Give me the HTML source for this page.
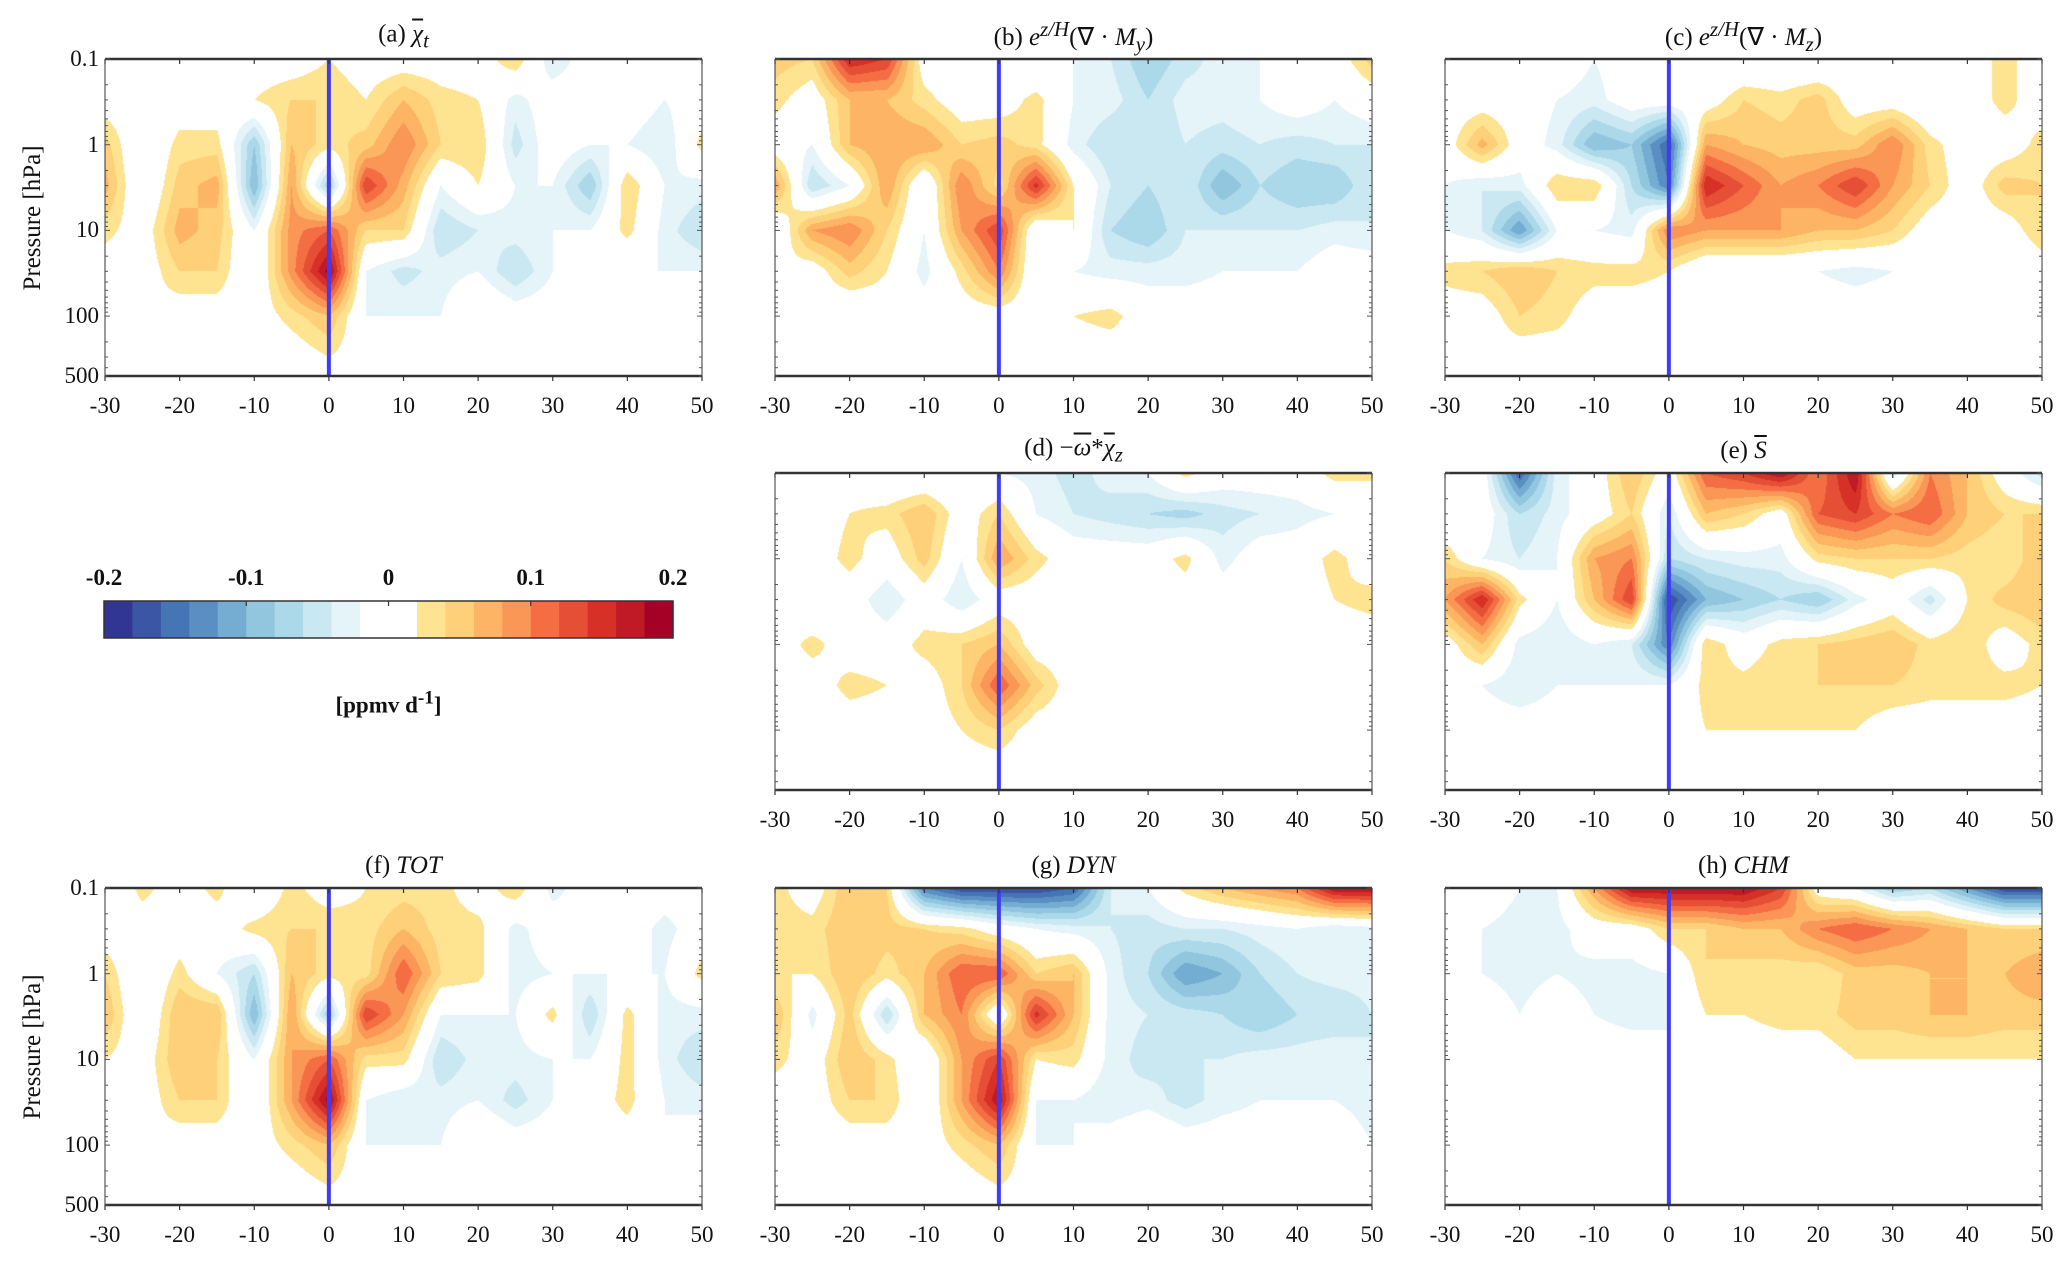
<!DOCTYPE html>
<html><head><meta charset="utf-8">
<style>
html,body{margin:0;padding:0;background:#fff;}
#root{position:relative;width:2067px;height:1262px;overflow:hidden;font-family:"Liberation Serif",serif;color:#111;}
.t{position:absolute;white-space:nowrap;}
.tick{font-size:23px;transform:translate(-50%,-50%);}
.ylab{font-size:23px;transform:translate(-100%,-50%);}
.title{font-size:25px;transform:translate(-50%,-50%);}
.cbl{font-size:23px;font-weight:bold;transform:translate(-50%,-50%);}
canvas{position:absolute;}
i{font-style:italic;}
</style></head>
<body>
<div id="root">
<svg id="ax" width="2067" height="1262" style="position:absolute;left:0;top:0;z-index:2"></svg>
</div>
<script>
// ---- data (units of 0.01 ppmv/d) ----
const days = [-30,-25,-20,-15,-10,-5,0,5,10,15,20,25,30,35,40,45,50];
const levels = [0.1,0.3,1,3,10,30,100,300,500];
const xTicks = [-30,-20,-10,0,10,20,30,40,50];
const yTicks = ["0.1","1","10","100","500"];
const yTickVals = [0.1,1,10,100,500];
const cbTicks = ["-0.2","-0.1","0","0.1","0.2"];

const fieldA = [
[-2,0,0,0,0,0,2,0,0,0,0,4,-4,0,0,0,0],
[0,0,0,0,2,4,4,2,6,3,2,-3,0,0,0,-2,0],
[5,-2,3,3,-8,6,3,5,10,4,4,-5,0,-2,-2,-4,3],
[7,-2,5,7,-10,8,-8,14,7,-2,2,-2,-2,-8,4,-2,-3],
[3,0,7,5,-2,9,12,4,4,-6,-4,-3,-2,-2,3,-3,-6],
[0,0,4,4,-2,9,19,-2,-5,-3,-2,-6,-2,0,-2,-2,-2],
[0,2,0,0,0,3,6,-2,-2,-2,2,0,0,2,0,-2,0],
[0,0,0,0,0,0,2,0,0,0,0,0,0,0,0,0,0],
[0,0,0,0,0,0,0,0,0,0,0,0,0,0,0,0,0]];
const fieldB = [
[5,4,16,14,0,0,-2,-2,-2,-4,-8,-5,-3,-2,-2,0,5],
[3,0,6,6,3,0,0,3,-2,-3,-6,-3,-3,-2,0,-2,0],
[0,-2,6,8,8,4,5,3,-3,-6,-6,-4,-5,-4,-5,-4,-4],
[8,-6,-2,8,-2,10,3,15,2,-4,-6,-4,-10,-6,-8,-8,-4],
[-2,8,10,4,-2,8,14,-2,2,-6,-8,-4,-4,-4,-4,-3,-4],
[2,0,5,2,-3,3,10,-2,-2,-3,-3,-3,-2,-2,-2,0,0],
[0,0,-2,0,0,0,0,0,2,3,0,0,0,0,0,0,0],
[0,0,0,0,0,0,0,0,0,0,0,0,0,0,0,0,0],
[0,0,0,0,0,0,0,0,0,0,0,0,0,0,0,0,0]];
const fieldC = [
[0,0,2,0,-2,0,0,-2,-2,-2,-2,0,-2,0,0,3,0],
[0,0,0,-2,-3,0,0,0,4,3,5,0,0,-2,0,3,0],
[0,7,0,-3,-10,-8,-16,8,6,5,5,5,10,3,0,0,3],
[-2,-4,-3,4,4,-6,-14,16,12,8,10,14,8,4,0,5,4],
[-2,-4,-12,-2,-2,-3,10,8,8,8,6,6,4,0,0,0,4],
[3,4,6,4,3,3,2,-2,-2,-2,-2,-3,-2,-2,0,-2,0],
[0,0,4,3,0,0,0,0,0,0,0,0,0,0,0,0,0],
[0,0,0,0,0,0,0,0,0,0,0,0,0,0,0,0,0],
[0,0,0,0,0,0,0,0,0,0,0,0,0,0,0,0,0]];
const fieldD = [
[-2,-2,0,-2,-2,-2,-2,-3,-5,-3,-2,3,0,0,0,3,3],
[0,0,2,3,6,0,4,-2,-4,-5,-6,-7,-5,-4,-3,-2,-2],
[-2,0,3,0,5,-2,8,3,0,0,0,3,-3,0,0,3,0],
[0,-2,0,-4,0,-4,0,0,-2,0,0,0,0,0,0,2,3],
[0,3,0,0,3,4,6,0,0,0,-2,0,0,0,0,0,0],
[0,0,3,2,0,4,12,5,0,0,0,-2,0,0,0,0,-2],
[0,0,0,0,0,2,4,0,0,0,0,0,0,0,0,0,0],
[0,0,0,0,0,0,0,0,0,0,0,0,0,0,0,0,0],
[0,0,0,0,0,0,0,0,0,0,0,0,0,0,0,0,0]];
const fieldE = [
[-2,0,-16,-3,0,6,0,12,14,18,10,18,-4,10,6,0,-5],
[-2,0,-6,-3,0,4,-4,6,4,0,12,14,10,12,6,4,4],
[4,-2,-4,-2,8,10,-6,-4,-3,-3,3,4,4,4,3,2,6],
[8,16,3,-2,6,14,-18,-10,-8,-6,-8,-3,0,-5,2,5,6],
[0,6,-3,-4,-2,-4,-14,4,0,3,4,5,6,3,4,0,3],
[0,-2,-4,-2,-2,-2,-2,3,3,4,4,4,4,3,3,3,2],
[0,0,0,0,0,0,0,2,2,2,2,2,0,0,0,0,0],
[0,0,0,0,0,0,0,0,0,0,0,0,0,0,0,0,0],
[0,0,0,0,0,0,0,0,0,0,0,0,0,0,0,0,0]];
const fieldF = [
[-2,3,0,3,-2,3,0,2,3,3,0,4,-3,0,0,0,0],
[0,0,0,0,3,4,4,3,6,3,3,-3,0,-2,0,-3,0],
[4,-2,3,-2,-6,6,3,3,12,4,3,-3,-2,-2,-2,-2,3],
[6,-2,6,6,-10,8,-8,14,8,-2,-2,-2,3,-6,3,-3,-3],
[2,0,6,4,-2,8,12,3,3,-6,-3,-3,-2,-2,3,-3,-6],
[0,0,4,4,-2,8,19,-2,-4,-3,-2,-5,-2,0,3,-2,-3],
[0,2,0,0,0,3,6,-2,-2,-2,2,0,0,0,0,-2,0],
[0,0,0,0,0,0,2,0,0,0,0,0,0,0,0,0,0],
[0,0,0,0,0,0,0,0,0,0,0,0,0,0,0,0,0]];
const fieldG = [
[3,0,6,4,-14,-18,-18,-18,-16,-4,-2,3,6,8,10,18,18],
[3,3,6,5,4,3,0,-2,-3,-4,-5,-4,-4,-3,-2,-4,-3],
[2,2,6,3,6,12,12,4,6,-3,-6,-12,-10,-6,-4,-3,-3],
[6,-3,5,-6,6,10,-2,15,6,-3,-4,-5,-6,-8,-6,-6,-4],
[3,0,6,3,-2,8,14,2,3,-3,-5,-4,-4,-3,-3,-2,-4],
[0,0,4,4,-2,8,18,-2,-2,-4,-3,-5,-3,-2,-2,-2,-3],
[0,0,0,0,0,3,6,-2,-2,0,2,0,0,0,2,0,-2],
[0,0,0,0,0,0,2,0,0,0,0,0,0,0,0,0,0],
[0,0,0,0,0,0,0,0,0,0,0,0,0,0,0,0,0]];
const fieldH = [
[-2,0,-2,-2,8,18,18,18,18,14,0,-2,-8,-6,-12,-18,-18],
[0,-2,-3,-3,0,0,4,4,6,6,10,12,10,8,6,4,4],
[0,-2,-3,-2,-3,-3,-2,4,3,3,2,5,5,6,6,6,8],
[0,0,-2,0,-2,-3,-2,2,2,3,3,5,5,6,6,5,5],
[0,0,0,0,0,0,-2,-2,0,0,0,2,2,2,2,2,2],
[0,0,0,0,0,0,0,0,0,0,0,0,0,0,0,0,0],
[0,0,0,0,0,0,0,0,0,0,0,0,0,0,0,0,0],
[0,0,0,0,0,0,0,0,0,0,0,0,0,0,0,0,0],
[0,0,0,0,0,0,0,0,0,0,0,0,0,0,0,0,0]];

const blues = ["#e4f4f9","#cae8f2","#abd9e9","#92c6df","#74add1","#5b8fc3","#4575b4","#3c56a6","#313695"];
const warms = ["#fee391","#fed07a","#fdb464","#fa9656","#f46d43","#e54f35","#d73027","#c01a27","#a50026"];

const panels = [
 {id:"a",field:fieldA,x:105,y:59,yl:true,title:'(a) <span style="text-decoration:overline"><i>χ</i></span><sub><i>t</i></sub>'},
 {id:"b",field:fieldB,x:775,y:59,yl:false,title:'(b) <i>e</i><sup><i>z/H</i></sup>(∇ · <i>M<sub>y</sub></i>)'},
 {id:"c",field:fieldC,x:1445,y:59,yl:false,title:'(c) <i>e</i><sup><i>z/H</i></sup>(∇ · <i>M<sub>z</sub></i>)'},
 {id:"d",field:fieldD,x:775,y:473,yl:false,title:'(d) −<span style="text-decoration:overline"><i>ω</i></span>*<span style="text-decoration:overline"><i>χ</i></span><sub><i>z</i></sub>'},
 {id:"e",field:fieldE,x:1445,y:473,yl:false,title:'(e) <span style="text-decoration:overline"><i>S</i></span>'},
 {id:"f",field:fieldF,x:105,y:888,yl:true,title:'(f) <i>TOT</i>'},
 {id:"g",field:fieldG,x:775,y:888,yl:false,title:'(g) <i>DYN</i>'},
 {id:"h",field:fieldH,x:1445,y:888,yl:false,title:'(h) <i>CHM</i>'}
];
const W=597,H=317;
const root=document.getElementById('root');
const svg=document.getElementById('ax');
const NS="http://www.w3.org/2000/svg";
const L0=Math.log10(0.1),L1=Math.log10(500);
function xScale(p,d){return p.x+(d+30)/80*W;}
function yScale(p,v){return p.y+(Math.log10(v)-L0)/(L1-L0)*H;}
const logLev=levels.map(v=>Math.log10(v));
function color(v){
  if(v>=2){return warms[Math.min(8,Math.floor((v-2)/2))];}
  if(v<=-2){return blues[Math.min(8,Math.floor((-v-2)/2))];}
  return null;
}
function hex(c){return [parseInt(c.substr(1,2),16),parseInt(c.substr(3,2),16),parseInt(c.substr(5,2),16)];}
function line(x1,y1,x2,y2,w,c,name){
  const l=document.createElementNS(NS,'line');
  l.setAttribute('x1',x1);l.setAttribute('y1',y1);l.setAttribute('x2',x2);l.setAttribute('y2',y2);
  l.setAttribute('stroke',c);l.setAttribute('stroke-width',w);
  
  
  svg.appendChild(l);
}
function text(html,x,y,cls,name){
  const d=document.createElement('div');
  d.className='t '+cls;d.style.left=x+'px';d.style.top=y+'px';d.innerHTML=html;
  
  
  root.appendChild(d);
}
panels.forEach(p=>{
  const cv=document.createElement('canvas');
  cv.width=W;cv.height=H;cv.style.left=p.x+'px';cv.style.top=p.y+'px';
  
  
  root.appendChild(cv);
  const ctx=cv.getContext('2d');
  const img=ctx.createImageData(W,H);
  for(let j=0;j<H;j++){
    const lp=L0+(j+0.5)/H*(L1-L0);
    let r=0;while(r<logLev.length-2&&lp>logLev[r+1])r++;
    let ty=(lp-logLev[r])/(logLev[r+1]-logLev[r]);ty=Math.max(0,Math.min(1,ty));
    for(let i=0;i<W;i++){
      const d=-30+(i+0.5)/W*80;
      const cf=(d-days[0])/(days[1]-days[0]);
      let c=Math.min(days.length-2,Math.max(0,Math.floor(cf)));
      const tx=Math.max(0,Math.min(1,cf-c));
      const f=p.field;
      const v=(f[r][c]*(1-tx)+f[r][c+1]*tx)*(1-ty)+(f[r+1][c]*(1-tx)+f[r+1][c+1]*tx)*ty;
      const col=color(v);const k=(j*W+i)*4;
      const rgb=col?hex(col):[255,255,255];
      img.data[k]=rgb[0];img.data[k+1]=rgb[1];img.data[k+2]=rgb[2];img.data[k+3]=255;
    }
  }
  ctx.putImageData(img,0,0);
  line(xScale(p,0),p.y,xScale(p,0),p.y+H,4,'#3f3cf2','day-zero-line-'+p.id);
  line(p.x,p.y,p.x+W,p.y,2.5,'#333','frame-top-'+p.id);
  line(p.x,p.y+H,p.x+W,p.y+H,2.5,'#333','frame-bottom-'+p.id);
  line(p.x,p.y,p.x,p.y+H,1,'#333','frame-left-'+p.id);
  line(p.x+W,p.y,p.x+W,p.y+H,1,'#333','frame-right-'+p.id);
  xTicks.forEach(t=>{
    const x=xScale(p,t);
    line(x,p.y+H,x,p.y+H+5,1.2,'#333','x-tick-'+p.id);
    line(x,p.y,x,p.y+5,1.2,'#333','x-tick-top-'+p.id);
    text(String(t),x,p.y+H+30,'tick','x-tick-label-'+p.id);
  });
  for(let e=-1;e<3;e++)for(let m=1;m<10;m++){
    const v=m*Math.pow(10,e);if(v>500)continue;
    const y=yScale(p,v);const len=m===1?5:3;
    line(p.x,y,p.x+len,y,1,'#555','y-minor-tick-'+p.id);
    line(p.x+W-len,y,p.x+W,y,1,'#555','y-minor-tick-right-'+p.id);
  }
  if(p.yl){
    yTickVals.forEach((v,k)=>{text(yTicks[k],p.x-6,yScale(p,v),'ylab','y-tick-label-'+p.id);});
    const d=document.createElement('div');
    d.className='t';d.style.fontSize='25px';
    d.style.left=(p.x-72)+'px';d.style.top=(p.y+H/2)+'px';
    d.style.transform='translate(-50%,-50%) rotate(-90deg)';
    d.textContent='Pressure [hPa]';
    
    
    root.appendChild(d);
  }
  text(p.title,p.x+W/2,p.y-22,'title','panel-title-'+p.id);
});
const cbx=104,cbw=569,cby=601,cbh=37;
const cbColors=blues.slice().reverse().concat([null,null]).concat(warms);
cbColors.forEach((c,k)=>{
  const r=document.createElementNS(NS,'rect');
  r.setAttribute('x',cbx+k*cbw/20);r.setAttribute('y',cby);
  r.setAttribute('width',cbw/20+0.6);r.setAttribute('height',cbh);
  r.setAttribute('fill',c||'#ffffff');
  
  
  svg.appendChild(r);
});
const fr=document.createElementNS(NS,'rect');
fr.setAttribute('x',cbx);fr.setAttribute('y',cby);fr.setAttribute('width',cbw);fr.setAttribute('height',cbh);
fr.setAttribute('fill','none');fr.setAttribute('stroke','#333');fr.setAttribute('stroke-width','1.5');


svg.appendChild(fr);
cbTicks.forEach((t,k)=>{
  const x=cbx+k*cbw/4;
  if(k>0&&k<4)line(x,cby,x,cby+5,1.2,'#333','colorbar-tick');
  text(t,x,cby-23,'cbl','colorbar-tick-label');
});
text('[ppmv d<sup>-1</sup>]',cbx+cbw/2,703,'cbl','colorbar-unit-label');
</script>
</body></html>
